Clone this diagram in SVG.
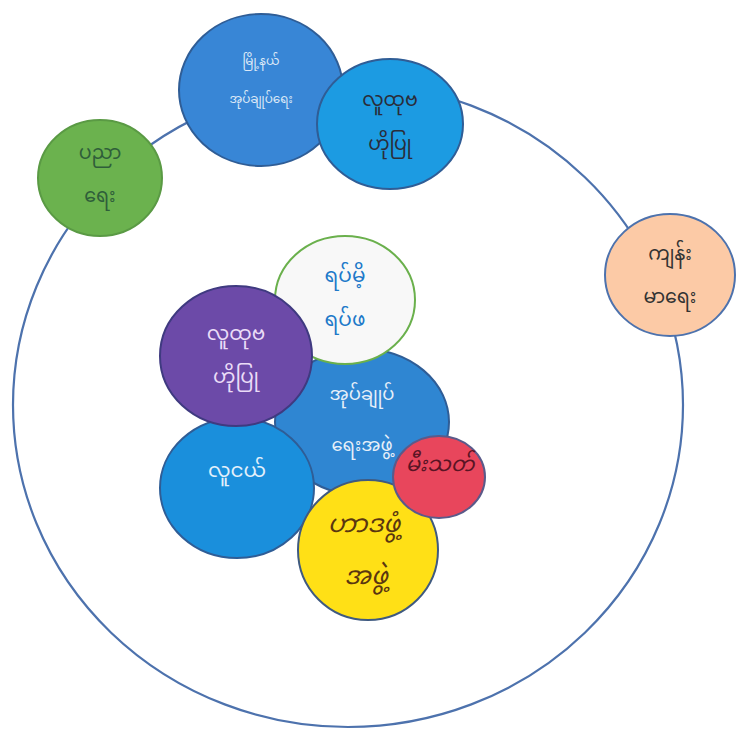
<svg xmlns="http://www.w3.org/2000/svg" width="739" height="729" viewBox="0 0 739 729">
<style>
.t{font-family:"Noto Sans Myanmar","Padauk","Myanmar Text","Noto Sans",sans-serif;text-anchor:middle;dominant-baseline:central}
.nd{stroke-width:2}
</style>
<rect width="739" height="729" fill="#ffffff"/>
<g id="connectors">
<ellipse cx="348" cy="405" rx="335" ry="322" fill="none" stroke="#4d72ad" stroke-width="2.2"/>
</g>
<g id="n-township">
<ellipse class="nd" cx="261" cy="90" rx="82" ry="76" fill="#3886d6" stroke="#2f5d96"/>
<text class="t" x="261" y="62" font-size="12" fill="#dbe8f7">မြို့နယ်</text>
<text class="t" x="261" y="100" font-size="12" fill="#dbe8f7">အုပ်ချုပ်ရေး</text>
</g>
<g id="n-people-top">
<ellipse class="nd" cx="390" cy="124" rx="73" ry="65" fill="#1c9be2" stroke="#2f5d96"/>
<text class="t" x="390" y="101" font-size="19" fill="#2a2d3a">လူထုဗ</text>
<text class="t" x="390" y="145" font-size="19" fill="#2a2d3a">ဟိုပြု</text>
</g>
<g id="n-education">
<ellipse class="nd" cx="100" cy="178" rx="62" ry="58" fill="#6bb24e" stroke="#5a9a44"/>
<text class="t" x="100" y="154" font-size="19" fill="#2f5e3a">ပညာ</text>
<text class="t" x="100" y="197" font-size="19" fill="#2f5e3a">ရေး</text>
</g>
<g id="n-health">
<ellipse class="nd" cx="670" cy="275" rx="65" ry="61" fill="#fccaa6" stroke="#4d72ad"/>
<text class="t" x="670" y="255" font-size="19" fill="#333333">ကျန်း</text>
<text class="t" x="670" y="298" font-size="19" fill="#333333">မာရေး</text>
</g>
<g id="n-admin">
<ellipse class="nd" cx="362" cy="422" rx="87" ry="73" fill="#2f86d2" stroke="#2f5d96"/>
<text class="t" x="362" y="395" font-size="18" fill="#e6eff9">အုပ်ချုပ်</text>
<text class="t" x="362" y="446" font-size="18" fill="#e6eff9">ရေးအဖွဲ့</text>
</g>
<g id="n-elders">
<ellipse class="nd" cx="345" cy="300" rx="70" ry="64" fill="#f8f8f8" stroke="#6ab04c"/>
<text class="t" x="345" y="277" font-size="20" fill="#2079c9">ရပ်မိ့</text>
<text class="t" x="345" y="321" font-size="20" fill="#2079c9">ရပ်ဖ</text>
</g>
<g id="n-youth">
<ellipse class="nd" cx="237" cy="488" rx="77" ry="70" fill="#1a8fdc" stroke="#2f5d96"/>
<text class="t" x="237" y="472" font-size="20" fill="#e2f0fb">လူငယ်</text>
</g>
<g id="n-people-inner">
<ellipse class="nd" cx="236" cy="356" rx="76" ry="70" fill="#6c4aa8" stroke="#3f3a80"/>
<text class="t" x="236" y="335" font-size="20" fill="#eadcf7">လူထုဗ</text>
<text class="t" x="236" y="378" font-size="20" fill="#eadcf7">ဟိုပြု</text>
</g>
<g id="n-yellow">
<ellipse class="nd" cx="368" cy="550" rx="70" ry="70" fill="#ffe016" stroke="#3f5a80"/>
<text class="t" x="364" y="526" font-size="25" fill="#5a3610" font-style="italic">ဟာဒဖွံ့</text>
<text class="t" x="366" y="578" font-size="25" fill="#5a3610" font-style="italic">အဖွဲ့</text>
</g>
<g id="n-red">
<ellipse class="nd" cx="439" cy="477" rx="46" ry="41" fill="#e8465c" stroke="#5a5a8a"/>
<text class="t" x="440" y="466" font-size="21" fill="#5a1424" font-style="italic">မီးသတ်</text>
</g>
</svg>
